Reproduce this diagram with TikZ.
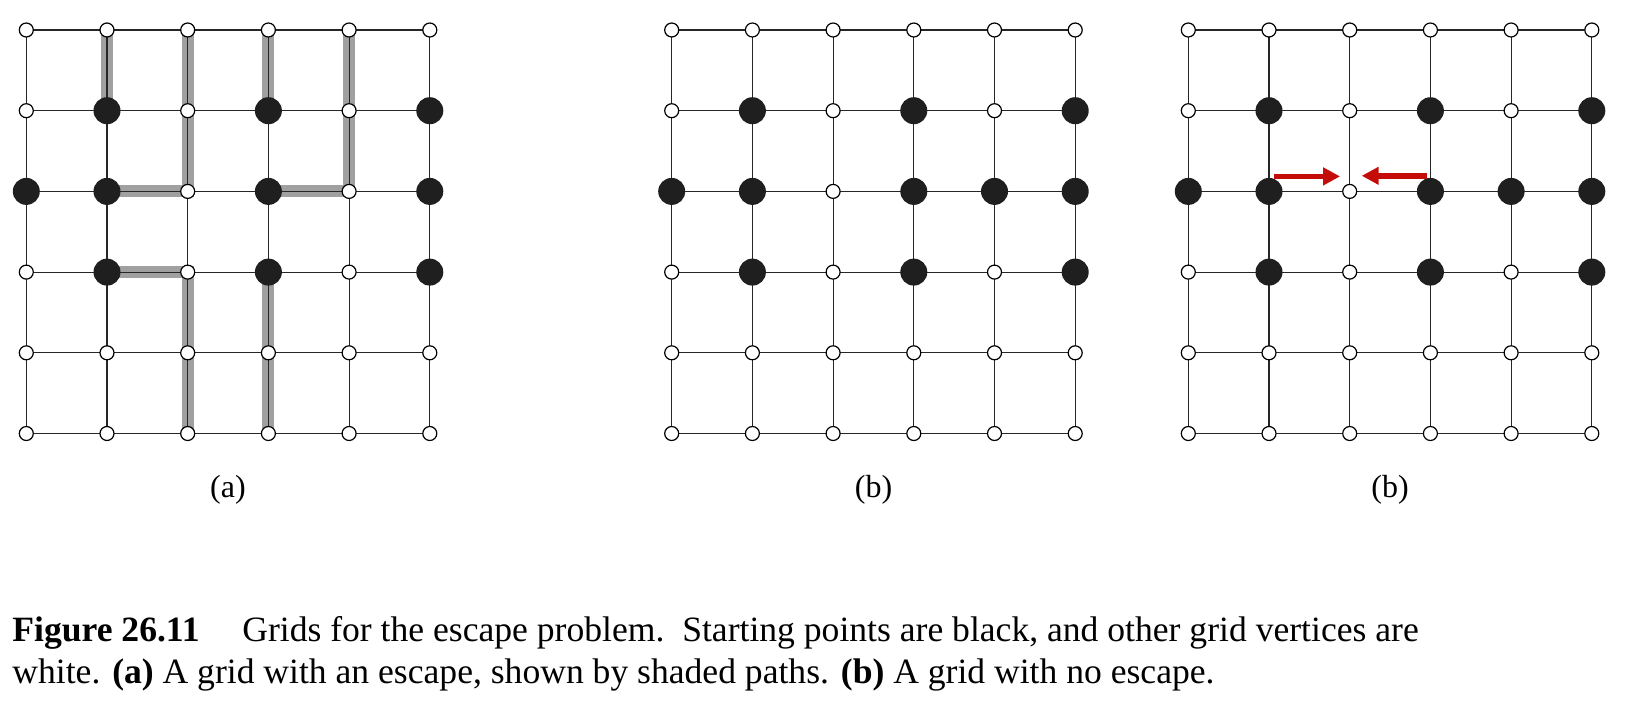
\documentclass[tikz,border=0pt]{standalone}
\usepackage{fontspec}
\setmainfont{Liberation Serif}
\usetikzlibrary{arrows.meta}
\definecolor{shadegray}{RGB}{160,160,160}
\definecolor{arrowred}{RGB}{196,12,8}
\pgfdeclarelayer{shading}
\pgfdeclarelayer{background}
\pgfsetlayers{shading,background,main}
\newcommand{\escgrid}[3]{%
  \foreach \i in {0,...,5}
    \foreach \j in {0,...,5}
      \node[vertex] (#1-\i-\j) at ({#2+80.7*\i},{30+80.7*\j}) {};
  \foreach \i/\j in {#3}
    \node[startpt] (#1-s-\i-\j) at (#1-\i-\j) {};
  \begin{pgfonlayer}{background}
    \foreach \i in {0,...,5}
      \foreach \j [count=\k] in {0,...,4} {
        \draw[gridline] (#1-\i-\j.center) -- (#1-\i-\k.center);
        \draw[gridline] (#1-\j-\i.center) -- (#1-\k-\i.center);
      }
  \end{pgfonlayer}
}
\begin{document}
\begin{tikzpicture}[
    x=0.5pt, y=-0.5pt,
    vertex/.style={circle, draw=black, line width=0.6pt, fill=white, inner sep=0pt, minimum size=7pt},
    startpt/.style={circle, fill=black!88, inner sep=0pt, minimum size=13.5pt},
    gridline/.style={line width=0.6pt, black!85},
    escpath/.style={line width=6pt, shadegray},
    pusharrow/.style={-{Triangle[length=8.5pt, width=8.5pt]}, line width=2.8pt, arrowred},
    sublabel/.style={font=\fontsize{16}{19}\selectfont, anchor=base, inner sep=0pt},
    captext/.style={font=\fontsize{17.8}{21}\selectfont, anchor=base west, inner sep=0pt}
]
\useasboundingbox (0,0) rectangle (1633,707);

\escgrid{a}{26.3}{1/1,3/1,5/1,0/2,1/2,3/2,5/2,1/3,3/3,5/3}
\escgrid{b}{671.7}{1/1,3/1,5/1,0/2,1/2,3/2,4/2,5/2,1/3,3/3,5/3}
\escgrid{c}{1188.3}{1/1,3/1,5/1,0/2,1/2,3/2,4/2,5/2,1/3,3/3,5/3}

\begin{pgfonlayer}{shading}
\draw[escpath] (a-1-1.center) -- (a-1-0.center);
\draw[escpath] (a-1-2.center) -- (a-2-2.center) -- (a-2-0.center);
\draw[escpath] (a-3-1.center) -- (a-3-0.center);
\draw[escpath] (a-3-2.center) -- (a-4-2.center) -- (a-4-0.center);
\draw[escpath] (a-1-3.center) -- (a-2-3.center) -- (a-2-5.center);
\draw[escpath] (a-3-3.center) -- (a-3-5.center);
\end{pgfonlayer}

\draw[pusharrow] ([shift={(2.5pt,7.5pt)}]c-1-2.center) -- ([shift={(-4.8pt,7.5pt)}]c-2-2.center);
\draw[pusharrow] ([shift={(-1.7pt,7.8pt)}]c-3-2.center) -- ([shift={(6pt,7.8pt)}]c-2-2.center);

\node[sublabel] (lab-a) at (228,497) {(a)};
\node[sublabel] (lab-b) at (873.5,497) {(b)};
\node[sublabel] (lab-c) at (1390,497) {(b)};

\node[captext] (cap1) at (12,641) {\textbf{Figure 26.11}\hspace{1.2em}Grids for the escape problem.\ \ Starting points are black, and other grid vertices are};
\node[captext] (cap2) at (12,683) {white. \textbf{(a)} A grid with an escape, shown by shaded paths. \textbf{(b)} A grid with no escape.};
\end{tikzpicture}
\end{document}
